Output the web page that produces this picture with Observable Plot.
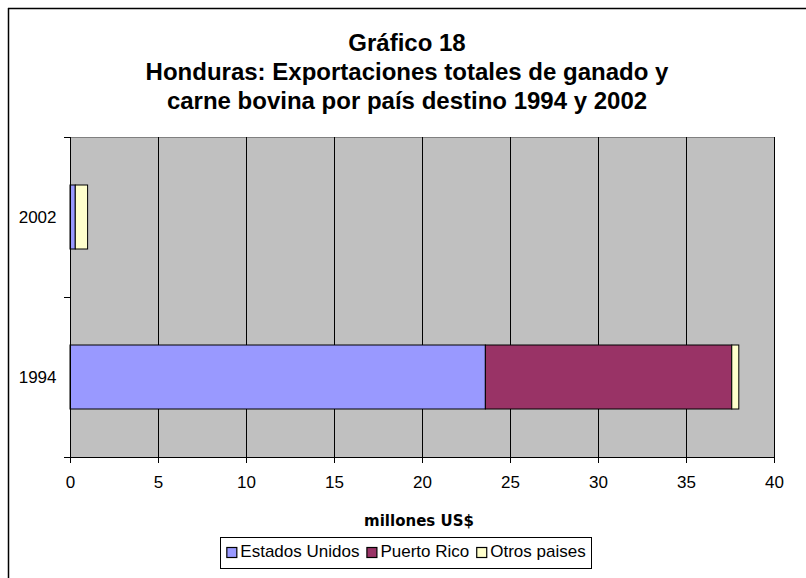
<!DOCTYPE html>
<html>
<head>
<meta charset="utf-8">
<script src="https://cdn.jsdelivr.net/npm/d3@7"></script>
<script src="https://cdn.jsdelivr.net/npm/@observablehq/plot@0.6"></script>
<style>
  html, body { margin: 0; padding: 0; background: white; }
  #chart { width: 806px; height: 578px; overflow: hidden; }
</style>
</head>
<body>
<div id="chart"></div>
<script>
const years = ["2002", "1994"];
const series = ["Estados Unidos", "Puerto Rico", "Otros paises"];
const colors = ["#9999ff", "#993366", "#ffffcc"];
const values1994 = [23.6, 14.0, 0.4];
const values2002 = [0.3, 0.0, 0.7];
const xTicks = [0, 5, 10, 15, 20, 25, 30, 35, 40];
const titleLines = ["Gráfico 18", "Honduras: Exportaciones totales de ganado y", "carne bovina por país destino 1994 y 2002"];
const xLabel = "millones US$";

const data = [];
series.forEach((s, i) => {
  data.push({year: "1994", series: s, value: values1994[i]});
  data.push({year: "2002", series: s, value: values2002[i]});
});

const chart = Plot.plot({
  width: 806,
  height: 578,
  marginLeft: 70,
  marginRight: 32,
  marginTop: 137,
  marginBottom: 121,
  x: {domain: [0, 40], ticks: xTicks},
  y: {domain: years, paddingInner: 0.6, paddingOuter: 0.3},
  color: {domain: series, range: colors},
  style: {fontFamily: "'Liberation Sans', Arial, sans-serif", fontSize: "17px", color: "black", background: "white"},
  marks: [
    Plot.frame({fill: "#c0c0c0", stroke: "#808080"}),
    Plot.gridX(xTicks, {stroke: "black", strokeOpacity: 1}),
    Plot.barX(data, Plot.stackX({x: "value", y: "year", fill: "series", stroke: "black", strokeWidth: 1, order: series})),
    Plot.frame({anchor: "left", stroke: "black"}),
    Plot.frame({anchor: "bottom", stroke: "black"}),
    Plot.axisX(xTicks, {tickSize: 6, tickPadding: 12, label: null, tickFormat: d => String(d)}),
    Plot.axisY({tickSize: 0, tickPadding: 14, label: null})
  ]
});
document.getElementById("chart").appendChild(chart);

const svg = d3.select(chart);
const ys = chart.scale("y");
const gap = (ys.step - ys.bandwidth) / 2;
const bounds = new Set();
years.forEach(y => {
  const s = ys.apply(y);
  bounds.add(Math.round(s - gap));
  bounds.add(Math.round(s + ys.bandwidth + gap));
});
const xs = chart.scale("x");
const x0 = xs.apply(0);
[...bounds].forEach(b => {
  svg.append("line").attr("x1", x0 - 6).attr("x2", x0).attr("y1", b + 0.5).attr("y2", b + 0.5)
    .attr("stroke", "black");
});

// outer chart border (top and left)
svg.append("line").attr("x1", 8).attr("x2", 806).attr("y1", 8.5).attr("y2", 8.5).attr("stroke", "black").attr("stroke-width", 1.5);
svg.append("line").attr("x1", 8.5).attr("x2", 8.5).attr("y1", 8).attr("y2", 578).attr("stroke", "black").attr("stroke-width", 1.5);

// title
const titleY = [45, 74, 103];
titleLines.forEach((t, i) => {
  svg.append("text").attr("x", 407).attr("y", titleY[i]).attr("text-anchor", "middle")
    .attr("dominant-baseline", "middle")
    .attr("font-family", "'Liberation Sans', Arial, sans-serif").attr("font-weight", "bold")
    .attr("font-size", 24).attr("fill", "black").text(t);
});

// x axis title
const xc = (xs.apply(0) + xs.apply(40)) / 2;
svg.append("text").attr("x", xc - 3).attr("y", 521).attr("text-anchor", "middle")
  .attr("dominant-baseline", "middle")
  .attr("font-family", "'DejaVu Sans', Verdana, sans-serif").attr("font-weight", "bold")
  .attr("font-size", 15).attr("fill", "black").text(xLabel);

// legend
const legBox = svg.append("rect");
const leg = svg.append("g");
const legFont = 17;
let cx = 0;
series.forEach((s, i) => {
  const g = leg.append("g");
  g.append("rect").attr("x", cx + 0.5).attr("y", -5.5).attr("width", 10).attr("height", 10)
    .attr("fill", colors[i]).attr("stroke", "black").attr("stroke-width", 1.2);
  const t = g.append("text").attr("x", cx + 14).attr("y", 0).attr("dominant-baseline", "middle")
    .attr("text-anchor", "start")
    .attr("font-family", "'Liberation Sans', Arial, sans-serif").attr("font-size", legFont)
    .attr("fill", "black").text(s);
  const w = t.node().getComputedTextLength();
  cx += 14 + w + 7;
});
const totalW = cx - 7;
const legW = totalW + 12;
const legX = 406 - legW / 2;
const legY = 553;
leg.attr("transform", `translate(${legX + 6},${legY})`);
legBox.attr("x", Math.round(legX) + 0.5).attr("y", legY - 15.5)
  .attr("width", Math.round(legW)).attr("height", 31).attr("fill", "white").attr("stroke", "black");
</script>
</body>
</html>
